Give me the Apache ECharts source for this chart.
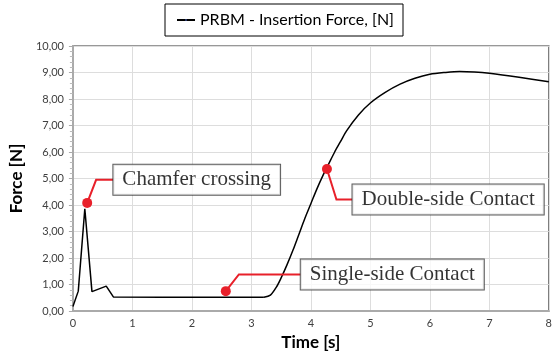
<!DOCTYPE html>
<html>
<head>
<meta charset="utf-8">
<script src="https://cdn.jsdelivr.net/npm/echarts@6/dist/echarts.min.js"></script>
<style>
	html, body {margin: 0; padding: 0; background: #fff;}
	#chart {width: 555px; height: 356px;}
</style>
</head>
<body>
<div id="chart"></div>
<script>
// insertion force curve: sharp start, smooth rise
const startTime = [0, 0.09, 0.2, 0.32, 0.56, 0.68, 1.5, 2.5, 3.21];
const startForce = [0.17, 0.75, 3.86, 0.73, 0.94, 0.53, 0.52, 0.52, 0.52];
const riseTime = [3.21, 3.32, 3.42, 3.5, 3.6, 3.7, 3.8, 3.9, 4.0, 4.1, 4.2, 4.3, 4.4, 4.5, 4.6, 4.8, 5.0, 5.25, 5.5, 5.75, 6.0, 6.25, 6.5, 6.75, 7.0, 7.5, 8.0];
const riseForce = [0.52, 0.6, 0.9, 1.25, 1.75, 2.3, 2.9, 3.5, 4.05, 4.6, 5.1, 5.55, 6.0, 6.4, 6.8, 7.4, 7.85, 8.25, 8.56, 8.78, 8.93, 9.0, 9.04, 9.02, 8.97, 8.82, 8.65];

// callouts: marker point, elbow, end of leader, text
const calloutText = ['Chamfer crossing', 'Single-side Contact', 'Double-side Contact'];
const calloutDot = [[0.24, 4.08], [2.57, 0.75], [4.27, 5.36]];
const calloutElbow = [[0.39, 4.95], [2.79, 1.38], [4.43, 4.21]];
const calloutEnd = [[0.68, 4.95], [3.83, 1.38], [4.70, 4.21]];

const seriesName = 'PRBM - Insertion Force, [N]';
const red = '#e8202a';

const chart = echarts.init(document.getElementById('chart'));

chart.setOption({
	animation: false,
	legend: {
		data: [seriesName],
		top: 4,
		left: 165,
		borderColor: '#000',
		borderWidth: 1,
		padding: [8, 9, 8, 11],
		itemWidth: 18,
		itemHeight: 2,
		itemGap: 8,
		textStyle: {fontFamily: 'Lato', fontSize: 16, color: '#000'}
	},
	grid: {
		left: 71.5,
		right: 5.5,
		top: 46,
		bottom: 43.3,
		show: true,
		borderColor: '#777',
		borderWidth: 1.5
	},
	xAxis: {
		type: 'value',
		min: 0,
		max: 8,
		interval: 1,
		name: 'Time [s]',
		nameLocation: 'middle',
		nameGap: 23,
		nameTextStyle: {fontFamily: 'Lato', fontWeight: 'bold', fontSize: 17, color: '#000'},
		axisLine: {lineStyle: {color: '#aaa', width: 2}},
		axisTick: {show: false},
		axisLabel: {fontFamily: 'Lato', fontSize: 11, color: '#404040', margin: 7},
		splitLine: {lineStyle: {color: '#ddd', width: 1}}
	},
	yAxis: {
		type: 'value',
		min: 0,
		max: 10,
		interval: 1,
		name: 'Force [N]',
		nameLocation: 'middle',
		nameGap: 44,
		nameTextStyle: {fontFamily: 'Lato', fontWeight: 'bold', fontSize: 17, color: '#000'},
		axisLine: {show: true, lineStyle: {color: '#aaa', width: 2}},
		axisTick: {show: true, length: 4, lineStyle: {color: '#aaa'}},
		minorTick: {show: true, splitNumber: 5, length: 3, lineStyle: {color: '#bbb'}},
		axisLabel: {
			fontFamily: 'Lato', fontSize: 11, color: '#404040', margin: 9,
			formatter: v => v.toFixed(2).replace('.', ',')
		},
		splitLine: {lineStyle: {color: '#ddd', width: 1}}
	},
	series: [
		{
			name: seriesName,
			type: 'line',
			symbol: 'none',
			lineStyle: {color: '#000', width: 1.5},
			data: startTime.map((t, i) => [t, startForce[i]]),
			z: 3
		},
		{
			name: seriesName,
			type: 'line',
			symbol: 'none',
			smooth: 0.3,
			lineStyle: {color: '#000', width: 1.5},
			data: riseTime.map((t, i) => [t, riseForce[i]]),
			z: 3
		},
		{
			name: 'leaders',
			type: 'lines',
			coordinateSystem: 'cartesian2d',
			polyline: true,
			silent: true,
			lineStyle: {color: red, width: 2, opacity: 1},
			data: calloutDot.map((d, i) => ({coords: [d, calloutElbow[i], calloutEnd[i]]})),
			z: 4
		},
		{
			name: 'dots',
			type: 'scatter',
			symbol: 'circle',
			symbolSize: 10,
			itemStyle: {color: red, opacity: 1},
			data: calloutDot,
			z: 5
		},
		{
			name: 'boxes',
			type: 'scatter',
			symbolSize: 0,
			data: calloutEnd.map((p, i) => ({value: p, name: calloutText[i]})),
			label: {
				show: true,
				position: 'right',
				distance: 0,
				formatter: '{b}',
				fontFamily: 'Liberation Serif',
				fontSize: 21,
				color: '#000',
				backgroundColor: '#fff',
				borderColor: '#333',
				borderWidth: 1,
				padding: [5, 9, 4, 9]
			},
			z: 6
		}
	]
});
</script>
</body>
</html>
